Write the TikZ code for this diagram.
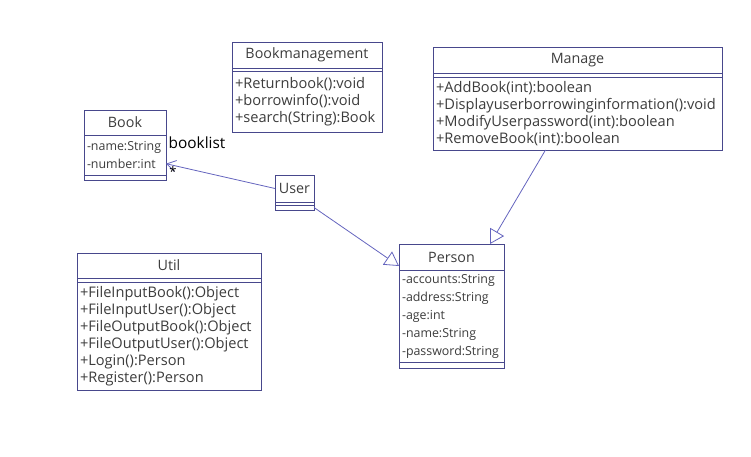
\documentclass[tikz,border=0pt]{standalone}
\usepackage{fontspec}
\setmainfont{Open Sans}
\usetikzlibrary{positioning,arrows.meta}
\definecolor{umlline}{RGB}{72,72,140}
\definecolor{umllink}{RGB}{100,100,190}
\definecolor{umltext}{RGB}{60,60,60}
\begin{document}
\begin{tikzpicture}[x=1pt,y=-1pt,inner sep=0pt,outer sep=0pt,line width=0.8pt,
classname/.style={draw=umlline,rectangle,anchor=north west,font=\fontsize{14.3}{16}\selectfont,text=umltext},
members/.style={draw=umlline,rectangle,inner xsep=3pt,align=left,text=umltext},
attrfont/.style={font=\fontsize{12.4}{18}\selectfont},
opfont/.style={font=\fontsize{14.6}{17}\selectfont},
assoc/.style={draw=umllink,-{Straight Barb[length=9pt,width=11pt]}},
inherit/.style={draw=umllink,-{Triangle[open,length=14pt,width=16pt,fill=white]}}]
\useasboundingbox (0,0) rectangle (751,457);
% Book
\draw (84,110) node[classname,minimum width=82pt,minimum height=25pt] (bookN) {Book};
\node[members,attrfont,below=0pt of bookN,text width=76pt,minimum height=40pt] (bookA) {-name:String\\-number:int};
\node[members,below=0pt of bookA,text width=76pt,minimum height=5pt] (bookO) {};
% Bookmanagement
\draw (232,42) node[classname,minimum width=150pt,minimum height=26pt] (bmN) {Bookmanagement};
\node[members,below=0pt of bmN,text width=144pt,minimum height=3pt] (bmA) {};
\node[members,opfont,below=0pt of bmA,text width=144pt,minimum height=61pt] (bmO) {+Returnbook():void\\+borrowinfo():void\\+search(String):Book};
% Manage
\draw (433,47) node[classname,minimum width=289pt,minimum height=26pt] (manageN) {Manage};
\node[members,below=0pt of manageN,text width=283pt,minimum height=4pt] (manageA) {};
\node[members,opfont,below=0pt of manageA,text width=283pt,minimum height=73pt] (manageO) {+AddBook(int):boolean\\+Displayuserborrowinginformation():void\\+ModifyUserpassword(int):boolean\\+RemoveBook(int):boolean};
% User
\draw (275,175) node[classname,minimum width=39pt,minimum height=27pt] (userN) {User};
\node[members,below=0pt of userN,text width=33pt,minimum height=3pt] (userA) {};
\node[members,below=0pt of userA,text width=33pt,minimum height=5pt] (userO) {};
% Util
\draw (77,253) node[classname,minimum width=184pt,minimum height=25pt] (utilN) {Util};
\node[members,below=0pt of utilN,text width=178pt,minimum height=4pt] (utilA) {};
\node[members,opfont,below=0pt of utilA,text width=178pt,minimum height=108pt] (utilO) {+FileInputBook():Object\\+FileInputUser():Object\\+FileOutputBook():Object\\+FileOutputUser():Object\\+Login():Person\\+Register():Person};
% Person
\draw (399,244) node[classname,minimum width=105pt,minimum height=26pt] (personN) {Person};
\node[members,attrfont,below=0pt of personN,text width=99pt,minimum height=92pt] (personA) {-accounts:String\\-address:String\\-age:int\\-name:String\\-password:String};
\node[members,below=0pt of personA,text width=99pt,minimum height=6pt] (personO) {};
% links
\draw[assoc] (userN.west) -- (bookA.-12);
\node[font=\fontsize{15.4}{17}\selectfont] (booklist) at (197,143) {booklist};
\node[font=\fontsize{13}{14}\selectfont] (mult) at (173,172) {*};
\draw[inherit] (userO.east) -- ([yshift=4pt]personN.south west);
\draw[inherit] ([xshift=-32pt]manageO.south) -- ([xshift=-14pt]personN.north east);
\end{tikzpicture}
\end{document}
